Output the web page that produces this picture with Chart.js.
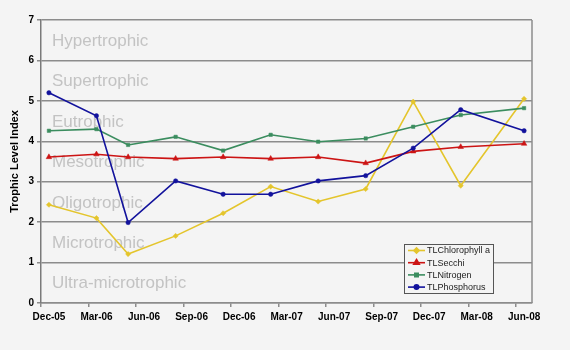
<!DOCTYPE html>
<html>
<head>
<meta charset="utf-8">
<title>Trophic Level Index</title>
<script src="https://cdn.jsdelivr.net/npm/chart.js@4/dist/chart.umd.min.js"></script>
<style>
    html, body { margin: 0; padding: 0; background: #f4f4f4; }
    #wrap { width: 570px; height: 350px; }
</style>
</head>
<body>
<div id="wrap"><canvas id="chart" width="570" height="350"></canvas></div>
<script>
// months counted from Dec-05 (0); samples sit in the middle of their month
var sampleMonths = [0, 3, 5, 8, 11, 14, 17, 20, 23, 26, 30];
var tickMonths = [0, 3, 6, 9, 12, 15, 18, 21, 24, 27, 30];
var tickLabels = ['Dec-05', 'Mar-06', 'Jun-06', 'Sep-06', 'Dec-06', 'Mar-07',
                  'Jun-07', 'Sep-07', 'Dec-07', 'Mar-08', 'Jun-08'];

var seriesNames = ['TLChlorophyll a', 'TLSecchi', 'TLNitrogen', 'TLPhosphorus'];
var chlorophyll = [2.43, 2.10, 1.21, 1.66, 2.22, 2.88, 2.51, 2.82, 4.98, 2.90, 5.05];
var secchi      = [3.61, 3.68, 3.61, 3.57, 3.61, 3.57, 3.61, 3.46, 3.75, 3.86, 3.94];
var nitrogen    = [4.26, 4.30, 3.91, 4.11, 3.77, 4.16, 3.99, 4.07, 4.36, 4.65, 4.82];
var phosphorus  = [5.20, 4.63, 1.99, 3.02, 2.69, 2.69, 3.02, 3.15, 3.83, 4.78, 4.26];

var zoneNames = ['Ultra-microtrophic', 'Microtrophic', 'Oligotrophic', 'Mesotrophic',
                 'Eutrophic', 'Supertrophic', 'Hypertrophic'];

(function() {

    var colors = ['#e4c52c', '#cc1414', '#3b8d5f', '#12129c'];
    var markers = ['rectRot', 'triangle', 'rect', 'circle'];
    var radii = [2.6, 3.2, 2.4, 2.2];

    function $each(list, fn) {
        for (var i = 0; i < list.length; ++i) fn(list[i], i);
    }

    var to_points = function(values) {
        return values.map(function(v, i) {
            return { x: sampleMonths[i] + 0.5, y: v };
        });
    };

    var build_datasets = function() {
        var all = [chlorophyll, secchi, nitrogen, phosphorus];
        return all.map(function(values, idx) {
            return {
                label: seriesNames[idx],
                data: to_points(values),
                borderColor: colors[idx],
                backgroundColor: colors[idx],
                borderWidth: 1.6,
                pointStyle: markers[idx],
                pointRadius: radii[idx],
                pointBorderWidth: 0.5,
                order: 4 - idx,
                tension: 0
            };
        });
    };

    // the pale zone names behind the lines, plus the right frame line
    var zonePlugin = {
        id: 'zones',
        beforeDatasetsDraw: function(chart) {
            var ctx = chart.ctx, area = chart.chartArea, y = chart.scales.y;
            ctx.save();
            ctx.strokeStyle = '#8c8c8c';
            ctx.lineWidth = 1.5;
            ctx.beginPath();
            ctx.moveTo(area.right, area.top);
            ctx.lineTo(area.right, area.bottom);
            ctx.stroke();
            ctx.font = '17px "Liberation Sans", Arial, sans-serif';
            ctx.fillStyle = '#c3c3c3';
            ctx.textBaseline = 'middle';
            ctx.textAlign = 'left';
            $each(zoneNames, function(name, i) {
                ctx.fillText(name, area.left + 11, y.getPixelForValue(i + 0.5) + 1);
            });
            ctx.restore();
        }
    };

    // boxed legend in the lower right of the plot
    var legendPlugin = {
        id: 'boxLegend',
        afterDraw: function(chart) {
            var ctx = chart.ctx, area = chart.chartArea;
            var bx = area.right - 128, by = area.bottom - 59, bw = 89, bh = 49;
            ctx.save();
            ctx.fillStyle = '#f4f4f4';
            ctx.fillRect(bx, by, bw, bh);
            ctx.strokeStyle = '#555555';
            ctx.lineWidth = 1;
            ctx.strokeRect(bx + 0.5, by + 0.5, bw, bh);
            ctx.font = '9px "Liberation Sans", Arial, sans-serif';
            ctx.textBaseline = 'middle';
            $each(chart.data.datasets, function(ds, idx) {
                var ry = by + 6.5 + idx * 12.2;
                ctx.strokeStyle = ds.borderColor;
                ctx.lineWidth = 1.6;
                ctx.beginPath();
                ctx.moveTo(bx + 4, ry);
                ctx.lineTo(bx + 21, ry);
                ctx.stroke();
                ctx.fillStyle = ds.backgroundColor;
                Chart.helpers.drawPoint(ctx, {
                    pointStyle: ds.pointStyle, radius: ds.pointRadius, borderWidth: 0.5
                }, bx + 12.5, ry);
                ctx.fillStyle = '#222222';
                ctx.fillText(ds.label, bx + 23, ry + 0.5);
            });
            ctx.restore();
        }
    };

    var tickFont = { family: '"Liberation Sans", Arial, sans-serif', size: 10, weight: 'bold' };

    new Chart(document.getElementById('chart'), {
        type: 'line',
        data: { datasets: build_datasets() },
        options: {
            responsive: false,
            animation: false,
            layout: { padding: { left: 0, top: 20, right: 38, bottom: 0 } },
            plugins: {
                legend: { display: false },
                tooltip: { enabled: false }
            },
            scales: {
                x: {
                    type: 'linear',
                    min: 0,
                    max: 31,
                    afterBuildTicks: function(scale) {
                        scale.ticks = tickMonths.map(function(m) { return { value: m }; });
                    },
                    afterFit: function(scale) { scale.height = 47; },
                    grid: { drawOnChartArea: false, drawTicks: true, tickLength: 4,
                            color: '#8c8c8c', lineWidth: 1.5 },
                    border: { color: '#8c8c8c', width: 1.5 },
                    ticks: {
                        autoSkip: false,
                        maxRotation: 0,
                        padding: 4,
                        labelOffset: 8,
                        color: '#000000',
                        font: tickFont,
                        callback: function(value) {
                            var i = tickMonths.indexOf(value);
                            return i >= 0 ? tickLabels[i] : '';
                        }
                    }
                },
                y: {
                    min: 0,
                    max: 7,
                    afterFit: function(scale) { scale.width = 41; },
                    grid: { color: '#8c8c8c', lineWidth: 1.5, tickLength: 4 },
                    border: { color: '#7a7a7a', width: 1.5 },
                    ticks: { stepSize: 1, padding: 3, color: '#000000', font: tickFont },
                    title: {
                        display: true,
                        text: 'Trophic Level Index',
                        color: '#000000',
                        padding: { top: 8, bottom: 0 },
                        font: { family: '"Liberation Sans", Arial, sans-serif', size: 11, weight: 'bold' }
                    }
                }
            }
        },
        plugins: [zonePlugin, legendPlugin]
    });

})();
</script>
</body>
</html>
